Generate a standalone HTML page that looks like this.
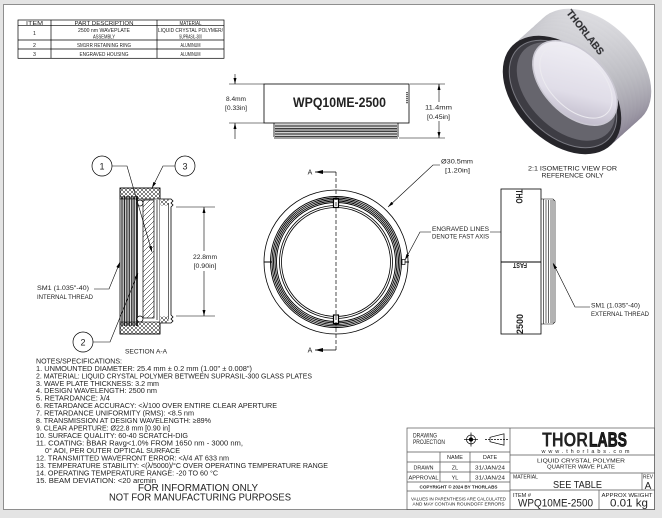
<!DOCTYPE html>
<html>
<head>
<meta charset="utf-8">
<style>
  html,body{margin:0;padding:0;background:#e4e4e4;}
  svg{display:block;}
  text{font-family:"Liberation Sans","DejaVu Sans",sans-serif;fill:#222;}
</style>
</head>
<body>
<svg width="662" height="518" viewBox="0 0 662 518" xmlns="http://www.w3.org/2000/svg">
<defs>
  <marker id="a" viewBox="0 0 8 4" refX="8" refY="2" markerWidth="7" markerHeight="3" markerUnits="userSpaceOnUse" orient="auto-start-reverse"><path d="M0,0 L8,2 L0,4z" fill="#000"/></marker>
  <marker id="b" viewBox="0 0 8 4" refX="8" refY="2" markerWidth="9" markerHeight="4" markerUnits="userSpaceOnUse" orient="auto-start-reverse"><path d="M0,0 L8,2 L0,4z" fill="#000"/></marker>
  <pattern id="hx" width="4" height="4" patternUnits="userSpaceOnUse">
    <path d="M0,4 L4,0 M0,0 L4,4" stroke="#000" stroke-width="0.5"/>
  </pattern>
  <pattern id="hg" width="5" height="5" patternUnits="userSpaceOnUse">
    <path d="M-1,6 L6,-1" stroke="#000" stroke-width="0.5"/>
  </pattern>
  <pattern id="vt" width="1.7" height="4" patternUnits="userSpaceOnUse">
    <rect x="0" y="0" width="0.9" height="4" fill="#111"/>
  </pattern>
  <pattern id="ht" width="4" height="1.6" patternUnits="userSpaceOnUse">
    <rect x="0" y="0" width="4" height="0.8" fill="#111"/>
  </pattern>
  <linearGradient id="band" gradientUnits="userSpaceOnUse" x1="560" y1="5" x2="625" y2="150">
    <stop offset="0" stop-color="#efeff2"/>
    <stop offset="0.35" stop-color="#bcbcc2"/>
    <stop offset="0.65" stop-color="#8c8696"/>
    <stop offset="1" stop-color="#4c4854"/>
  </linearGradient>
  <linearGradient id="lens" x1="0" y1="0" x2="1" y2="1">
    <stop offset="0" stop-color="#f4f3f8"/>
    <stop offset="0.6" stop-color="#e0dde8"/>
    <stop offset="1" stop-color="#b0aabc"/>
  </linearGradient>
</defs>

<!-- page frame -->
<rect x="0" y="0" width="662" height="518" fill="#e4e4e4"/>
<rect x="3.5" y="4.5" width="651" height="505" fill="#fff" stroke="#8e8e8e" stroke-width="1"/>

<!-- ===== BOM TABLE ===== -->
<g stroke="#000" stroke-width="0.7" fill="none">
  <rect x="18" y="20" width="206" height="38.3"/>
  <line x1="18" y1="25.7" x2="224" y2="25.7"/>
  <line x1="18" y1="40" x2="224" y2="40"/>
  <line x1="18" y1="49" x2="224" y2="49"/>
  <line x1="51" y1="20" x2="51" y2="58.3"/>
  <line x1="157" y1="20" x2="157" y2="58.3"/>
</g>
<g font-size="5.3" text-anchor="middle">
  <text x="34.5" y="24.8" textLength="17" lengthAdjust="spacingAndGlyphs">ITEM</text>
  <text x="104" y="24.8" textLength="59" lengthAdjust="spacingAndGlyphs">PART DESCRIPTION</text>
  <text x="190.5" y="24.8" textLength="22" lengthAdjust="spacingAndGlyphs">MATERIAL</text>
  <text x="34.5" y="35">1</text>
  <text x="104" y="32" textLength="52" lengthAdjust="spacingAndGlyphs">2500 nm WAVEPLATE</text>
  <text x="104" y="38.3" textLength="22" lengthAdjust="spacingAndGlyphs">ASSEMBLY</text>
  <text x="190.5" y="32" textLength="65" lengthAdjust="spacingAndGlyphs">LIQUID CRYSTAL POLYMER/</text>
  <text x="190.5" y="38.3" textLength="23" lengthAdjust="spacingAndGlyphs">SUPRASIL-300</text>
  <text x="34.5" y="46.9">2</text>
  <text x="104" y="46.9" textLength="54" lengthAdjust="spacingAndGlyphs">SM1RR RETAINING RING</text>
  <text x="190.5" y="46.9" textLength="20" lengthAdjust="spacingAndGlyphs">ALUMINUM</text>
  <text x="34.5" y="56">3</text>
  <text x="104" y="56" textLength="49" lengthAdjust="spacingAndGlyphs">ENGRAVED HOUSING</text>
  <text x="190.5" y="56" textLength="20" lengthAdjust="spacingAndGlyphs">ALUMINUM</text>
</g>

<!-- ===== TOP VIEW ===== -->
<g stroke="#000" stroke-width="0.8" fill="none">
  <rect x="264" y="84" width="145" height="39" fill="#fff"/>
  <path d="M274,123 L274,137 M398,123 L398,137" />
</g>
<rect x="275" y="124" width="122" height="13.5" fill="url(#ht)"/>
<path d="M274,138 L398,138" stroke="#000" stroke-width="0.8"/>
<path d="M407,92 L407,104" stroke="#000" stroke-width="1.2" stroke-dasharray="1.2,0.8"/>
<text x="339.5" y="107" font-size="13.5" font-weight="bold" text-anchor="middle" fill="#000" textLength="93" lengthAdjust="spacingAndGlyphs">WPQ10ME-2500</text>
<g stroke="#000" stroke-width="0.6" fill="none">
  <line x1="229" y1="84" x2="264" y2="84"/>
  <line x1="229" y1="123" x2="264" y2="123"/>
  <line x1="235" y1="74" x2="235" y2="84" marker-end="url(#a)"/>
  <line x1="235" y1="139" x2="235" y2="123" marker-end="url(#a)"/>
</g>
<text x="236" y="101" font-size="6" text-anchor="middle" fill="#3a3f55" textLength="20" lengthAdjust="spacingAndGlyphs">8.4mm</text>
<text x="236" y="110" font-size="6" text-anchor="middle" fill="#3a3f55" textLength="22" lengthAdjust="spacingAndGlyphs">[0.33in]</text>
<g stroke="#000" stroke-width="0.6" fill="none">
  <line x1="410" y1="84" x2="445" y2="84"/>
  <line x1="399" y1="138" x2="445" y2="138"/>
  <line x1="439" y1="102" x2="439" y2="84" marker-end="url(#a)"/>
  <line x1="439" y1="121" x2="439" y2="138" marker-end="url(#a)"/>
</g>
<text x="438.5" y="109.5" font-size="6" text-anchor="middle" fill="#3a3f55" textLength="27" lengthAdjust="spacingAndGlyphs">11.4mm</text>
<text x="438.5" y="119" font-size="6" text-anchor="middle" fill="#3a3f55" textLength="23" lengthAdjust="spacingAndGlyphs">[0.45in]</text>

<!-- ===== ISOMETRIC ===== -->
<g>
  <ellipse cx="592" cy="68" rx="70" ry="46" transform="rotate(45 592 68)" fill="url(#band)"/>
  <ellipse cx="588.3" cy="71.4" rx="70" ry="46" transform="rotate(45 588.3 71.4)" fill="url(#band)"/>
  <ellipse cx="584.5" cy="74.8" rx="70" ry="46" transform="rotate(45 584.5 74.8)" fill="url(#band)"/>
  <ellipse cx="580.8" cy="78.1" rx="70" ry="46" transform="rotate(45 580.8 78.1)" fill="url(#band)"/>
  <ellipse cx="577" cy="81.5" rx="70" ry="46" transform="rotate(45 577 81.5)" fill="url(#band)"/>
  <ellipse cx="573.3" cy="84.9" rx="70" ry="46" transform="rotate(45 573.3 84.9)" fill="url(#band)"/>
  <ellipse cx="569.5" cy="88.3" rx="70" ry="46" transform="rotate(45 569.5 88.3)" fill="url(#band)"/>
  <ellipse cx="565.8" cy="91.6" rx="70" ry="46" transform="rotate(45 565.8 91.6)" fill="url(#band)"/>
  <ellipse cx="562" cy="95" rx="70" ry="46" transform="rotate(45 562 95)" fill="#26252a"/>
  <ellipse cx="563" cy="94" rx="64" ry="41" transform="rotate(45 563 94)" fill="#3e3d44" stroke="#7a7a82" stroke-width="1"/>
  <ellipse cx="566" cy="91.5" rx="59" ry="37" transform="rotate(45 566 91.5)" fill="#66656d"/>
  <ellipse cx="575" cy="83" rx="51" ry="31" transform="rotate(45 575 83)" fill="url(#lens)" stroke="#c9c7d1" stroke-width="1.5"/>
  <ellipse cx="576" cy="82" rx="44" ry="26" transform="rotate(45 576 82)" fill="none" stroke="#ecebf0" stroke-width="1"/>
  <text x="0" y="0" font-size="10" font-weight="bold" fill="#f4f4f6" stroke="#6e6e76" stroke-width="0.45" transform="translate(566,13) rotate(52)" textLength="54" lengthAdjust="spacingAndGlyphs">THORLABS</text>
</g>
<text x="572.5" y="170.5" font-size="6.3" text-anchor="middle" textLength="89" lengthAdjust="spacingAndGlyphs">2:1 ISOMETRIC VIEW FOR</text>
<text x="572.5" y="177.5" font-size="6.3" text-anchor="middle" textLength="62" lengthAdjust="spacingAndGlyphs">REFERENCE ONLY</text>

<!-- ===== SECTION A-A ===== -->
<g>
  <rect x="120" y="188" width="40" height="146" fill="#fff" stroke="#000" stroke-width="0.8"/>
  <rect x="120" y="188" width="40" height="11" fill="url(#hx)" stroke="#000" stroke-width="0.6"/>
  <rect x="120" y="322" width="40" height="12" fill="url(#hx)" stroke="#000" stroke-width="0.6"/>
  <rect x="121" y="196" width="16" height="130" fill="url(#vt)"/>
  <line x1="137.5" y1="196" x2="137.5" y2="326" stroke="#000" stroke-width="0.8"/>
  <rect x="143" y="200" width="11" height="118" fill="url(#hg)" stroke="#000" stroke-width="0.7"/>
  <line x1="157" y1="200" x2="157" y2="320" stroke="#000" stroke-width="0.7"/>
  <circle cx="140" cy="203" r="3" fill="#fff" stroke="#000" stroke-width="0.7"/>
  <circle cx="140" cy="319" r="3" fill="#fff" stroke="#000" stroke-width="0.7"/>
  <path d="M160,199 L171,199 L173,201 L171,203 L173,205 L171,207 L171,315 L173,317 L171,319 L173,321 L171,323 L160,323" fill="#fff" stroke="#000" stroke-width="0.8"/>
  <line x1="168.5" y1="203" x2="168.5" y2="319" stroke="#000" stroke-width="0.6"/>
  <rect x="160.5" y="199.5" width="8" height="6" fill="url(#hx)"/>
  <rect x="160.5" y="316.5" width="8" height="6" fill="url(#hx)"/>
</g>
<g stroke="#000" stroke-width="0.7" fill="#fff">
  <circle cx="102" cy="166" r="10"/>
  <circle cx="185" cy="166" r="10"/>
  <circle cx="83" cy="342" r="10"/>
</g>
<g font-size="9" text-anchor="middle">
  <text x="102" y="169.5">1</text>
  <text x="185" y="169.5">3</text>
  <text x="83" y="345.5">2</text>
</g>
<g stroke="#000" stroke-width="0.6" fill="none">
  <polyline points="112,166 127,166 152,252" marker-end="url(#a)"/>
  <polyline points="175,166 163,166 152,188" marker-end="url(#a)"/>
  <polyline points="93,342 110,342 138,273" marker-end="url(#a)"/>
  <polyline points="94,289 109,289 120,262" marker-end="url(#a)"/>
</g>
<text x="37" y="289.8" font-size="6" textLength="52" lengthAdjust="spacingAndGlyphs">SM1 (1.035"-40)</text>
<text x="37" y="298.8" font-size="6" textLength="56" lengthAdjust="spacingAndGlyphs">INTERNAL THREAD</text>
<g stroke="#000" stroke-width="0.6" fill="none">
  <line x1="176" y1="207" x2="215" y2="207"/>
  <line x1="176" y1="316" x2="215" y2="316"/>
  <line x1="204" y1="251" x2="204" y2="207" marker-end="url(#a)"/>
  <line x1="204" y1="271" x2="204" y2="316" marker-end="url(#a)"/>
</g>
<text x="205" y="259" font-size="6" text-anchor="middle" fill="#3a3f55" textLength="24" lengthAdjust="spacingAndGlyphs">22.8mm</text>
<text x="205" y="268" font-size="6" text-anchor="middle" fill="#3a3f55" textLength="23" lengthAdjust="spacingAndGlyphs">[0.90in]</text>
<text x="146" y="353.5" font-size="6.3" text-anchor="middle" textLength="42" lengthAdjust="spacingAndGlyphs">SECTION A-A</text>

<!-- ===== FRONT VIEW ===== -->
<g fill="none" stroke="#000">
  <circle cx="336" cy="262" r="72" stroke-width="0.8"/>
  <circle cx="336" cy="262" r="65.5" stroke-width="0.9"/>
  <circle cx="336" cy="262" r="64" stroke-width="0.9"/>
  <circle cx="336" cy="262" r="62.5" stroke-width="0.9"/>
  <circle cx="336" cy="262" r="61" stroke-width="0.9"/>
  <circle cx="336" cy="262" r="59.5" stroke-width="0.9"/>
  <circle cx="336" cy="262" r="56.5" stroke-width="0.8"/>
  <circle cx="336" cy="262" r="54.5" stroke-width="0.8"/>
</g>
<rect x="333.5" y="199" width="5" height="8.5" fill="#fff" stroke="#000" stroke-width="1.2"/>
<rect x="333.5" y="315" width="5" height="8.5" fill="#fff" stroke="#000" stroke-width="1.2"/>
<line x1="264" y1="262" x2="272" y2="262" stroke="#000" stroke-width="1"/>
<line x1="402" y1="262" x2="409" y2="262" stroke="#000" stroke-width="1"/>
<rect x="402" y="259.5" width="3" height="5" fill="#fff" stroke="#000" stroke-width="0.7"/>
<line x1="336" y1="172" x2="336" y2="350" stroke="#000" stroke-width="0.7" stroke-dasharray="4,2"/>
<g stroke="#000" stroke-width="0.8">
  <line x1="336" y1="172" x2="315" y2="172" marker-end="url(#b)"/>
  <line x1="336" y1="350" x2="315" y2="350" marker-end="url(#b)"/>
</g>
<text x="310" y="174.5" font-size="7" text-anchor="middle">A</text>
<text x="310" y="352.5" font-size="7" text-anchor="middle">A</text>
<polyline points="440,165 433,165 388,207" fill="none" stroke="#000" stroke-width="0.6" marker-end="url(#a)"/>
<text x="441" y="163.5" font-size="6.3" textLength="32" lengthAdjust="spacingAndGlyphs">Ø30.5mm</text>
<text x="445" y="172.5" font-size="6" textLength="25" lengthAdjust="spacingAndGlyphs">[1.20in]</text>
<g stroke="#000" stroke-width="0.6" fill="none">
  <polyline points="431,232 420,232 405,260" marker-end="url(#a)"/>
  <polyline points="490,232 503,232 518,260" marker-end="url(#a)"/>
</g>
<text x="460.5" y="231" font-size="6" text-anchor="middle" textLength="57" lengthAdjust="spacingAndGlyphs">ENGRAVED LINES</text>
<text x="460.5" y="238.5" font-size="6" text-anchor="middle" textLength="57" lengthAdjust="spacingAndGlyphs">DENOTE FAST AXIS</text>

<!-- ===== SIDE VIEW ===== -->
<rect x="501" y="189" width="40" height="145" fill="#fff" stroke="#000" stroke-width="0.8"/>
<line x1="501" y1="262" x2="541" y2="262" stroke="#000" stroke-width="1.1"/>
<g stroke="#000" stroke-width="0.6" fill="none">
  <path d="M541,199 L553,199 L555,201 L555,322 L553,324 L541,324"/>
  <line x1="543.5" y1="199" x2="543.5" y2="324"/>
  <line x1="546" y1="200" x2="546" y2="323"/>
  <line x1="548.5" y1="200" x2="548.5" y2="323"/>
  <line x1="551" y1="200" x2="551" y2="323"/>
  <line x1="553" y1="200" x2="553" y2="323"/>
</g>
<text font-size="9" font-weight="bold" fill="#000" transform="translate(516,189.5) rotate(90)" textLength="14" lengthAdjust="spacingAndGlyphs">THO</text>
<text font-size="7" font-weight="bold" fill="#000" text-anchor="middle" transform="translate(520,263) rotate(180)" textLength="14" lengthAdjust="spacingAndGlyphs">FAST</text>
<text font-size="9" font-weight="bold" fill="#000" transform="translate(523,334) rotate(-90)" textLength="20" lengthAdjust="spacingAndGlyphs">2500</text>
<polyline points="590,307 575,307 553,263" fill="none" stroke="#000" stroke-width="0.6" marker-end="url(#a)"/>
<text x="591" y="307.5" font-size="6" textLength="49" lengthAdjust="spacingAndGlyphs">SM1 (1.035"-40)</text>
<text x="591" y="316" font-size="6" textLength="58" lengthAdjust="spacingAndGlyphs">EXTERNAL THREAD</text>

<!-- ===== NOTES ===== -->
<g font-size="7.2">
  <text x="36" y="363.4" textLength="86" lengthAdjust="spacingAndGlyphs">NOTES/SPECIFICATIONS:</text>
  <text x="36" y="370.9" textLength="216" lengthAdjust="spacingAndGlyphs">1. UNMOUNTED DIAMETER: 25.4 mm ± 0.2 mm (1.00" ± 0.008")</text>
  <text x="36" y="378.3" textLength="276" lengthAdjust="spacingAndGlyphs">2. MATERIAL: LIQUID CRYSTAL POLYMER BETWEEN SUPRASIL-300 GLASS PLATES</text>
  <text x="36" y="385.8" textLength="123" lengthAdjust="spacingAndGlyphs">3. WAVE PLATE THICKNESS: 3.2 mm</text>
  <text x="36" y="393.2" textLength="121" lengthAdjust="spacingAndGlyphs">4. DESIGN WAVELENGTH: 2500 nm</text>
  <text x="36" y="400.7" textLength="74" lengthAdjust="spacingAndGlyphs">5. RETARDANCE: λ/4</text>
  <text x="36" y="408.2" textLength="241" lengthAdjust="spacingAndGlyphs">6. RETARDANCE ACCURACY: &lt;λ/100 OVER ENTIRE CLEAR APERTURE</text>
  <text x="36" y="415.6" textLength="158" lengthAdjust="spacingAndGlyphs">7. RETARDANCE UNIFORMITY (RMS): &lt;8.5 nm</text>
  <text x="36" y="423.1" textLength="175" lengthAdjust="spacingAndGlyphs">8. TRANSMISSION AT DESIGN WAVELENGTH: ≥89%</text>
  <text x="36" y="430.5" textLength="134" lengthAdjust="spacingAndGlyphs">9. CLEAR APERTURE: Ø22.8 mm [0.90 in]</text>
  <text x="36" y="438" textLength="152" lengthAdjust="spacingAndGlyphs">10. SURFACE QUALITY: 60-40 SCRATCH-DIG</text>
  <text x="36" y="445.5" textLength="207" lengthAdjust="spacingAndGlyphs">11. COATING: BBAR Ravg&lt;1.0% FROM 1650 nm - 3000 nm,</text>
  <text x="45" y="452.9" textLength="135" lengthAdjust="spacingAndGlyphs">0° AOI, PER OUTER OPTICAL SURFACE</text>
  <text x="36" y="460.4" textLength="193" lengthAdjust="spacingAndGlyphs">12. TRANSMITTED WAVEFRONT ERROR: &lt;λ/4 AT 633 nm</text>
  <text x="36" y="467.8" textLength="292" lengthAdjust="spacingAndGlyphs">13. TEMPERATURE STABILITY: &lt;(λ/5000)/°C OVER OPERATING TEMPERATURE RANGE</text>
  <text x="36" y="475.3" textLength="182" lengthAdjust="spacingAndGlyphs">14. OPERATING TEMPERATURE RANGE: -20 TO 60 °C</text>
  <text x="36" y="482.8" textLength="120" lengthAdjust="spacingAndGlyphs">15. BEAM DEVIATION: &lt;20 arcmin</text>
</g>
<text x="198" y="491" font-size="10" text-anchor="middle" textLength="120" lengthAdjust="spacingAndGlyphs">FOR INFORMATION ONLY</text>
<text x="200" y="500.5" font-size="10" text-anchor="middle" textLength="182" lengthAdjust="spacingAndGlyphs">NOT FOR MANUFACTURING PURPOSES</text>

<!-- ===== TITLE BLOCK ===== -->
<g stroke="#555" stroke-width="0.7" fill="none">
  <rect x="407" y="428" width="247.5" height="81.5" fill="#fff"/>
  <line x1="510" y1="428" x2="510" y2="509.5"/>
  <line x1="407" y1="452" x2="510" y2="452"/>
  <line x1="407" y1="462" x2="510" y2="462"/>
  <line x1="407" y1="472" x2="510" y2="472"/>
  <line x1="407" y1="482" x2="510" y2="482"/>
  <line x1="407" y1="491" x2="510" y2="491"/>
  <line x1="440" y1="452" x2="440" y2="482"/>
  <line x1="470" y1="452" x2="470" y2="482"/>
  <line x1="510" y1="455" x2="654.5" y2="455"/>
  <line x1="510" y1="473" x2="654.5" y2="473"/>
  <line x1="510" y1="490" x2="654.5" y2="490"/>
  <line x1="642" y1="473" x2="642" y2="490"/>
  <line x1="599" y1="490" x2="599" y2="509.5"/>
</g>
<text x="413" y="437.5" font-size="6" textLength="24" lengthAdjust="spacingAndGlyphs">DRAWING</text>
<text x="413" y="443.8" font-size="6" textLength="32" lengthAdjust="spacingAndGlyphs">PROJECTION</text>
<g stroke="#000" stroke-width="0.7" fill="none">
  <circle cx="471" cy="439.5" r="4.5"/>
  <circle cx="471" cy="439.5" r="1.8" fill="#000"/>
  <line x1="464" y1="439.5" x2="478" y2="439.5"/>
  <line x1="471" y1="432.5" x2="471" y2="446.5"/>
  <polygon points="490,437.3 504,433.8 504,445.2 490,441.7"/>
  <line x1="485" y1="439.5" x2="508" y2="439.5" stroke-dasharray="2,1"/>
</g>
<g font-size="5.5" text-anchor="middle">
  <text x="455" y="458.8">NAME</text>
  <text x="490" y="458.8">DATE</text>
  <text x="423.5" y="469.3" font-size="5" textLength="20" lengthAdjust="spacingAndGlyphs">DRAWN</text>
  <text x="455" y="469.3">ZL</text>
  <text x="490" y="469.3" textLength="30" lengthAdjust="spacingAndGlyphs">31/JAN/24</text>
  <text x="423.5" y="479.6" font-size="5" textLength="30" lengthAdjust="spacingAndGlyphs">APPROVAL</text>
  <text x="455" y="479.6">YL</text>
  <text x="490" y="479.6" textLength="30" lengthAdjust="spacingAndGlyphs">31/JAN/24</text>
  <text x="458.5" y="488.5" font-size="4.4" font-weight="bold" textLength="78" lengthAdjust="spacingAndGlyphs">COPYRIGHT © 2024 BY THORLABS</text>
  <text x="458.5" y="500.5" font-size="4.2" textLength="95" lengthAdjust="spacingAndGlyphs">VALUES IN PARENTHESIS ARE CALCULATED</text>
  <text x="458.5" y="505.5" font-size="4.2" textLength="92" lengthAdjust="spacingAndGlyphs">AND MAY CONTAIN ROUNDOFF ERRORS</text>
</g>
<text x="542" y="446.5" font-size="20" font-weight="900" fill="#000" textLength="46" lengthAdjust="spacingAndGlyphs">THOR</text>
<text x="589" y="446.5" font-size="20" font-weight="bold" fill="#fff" stroke="#000" stroke-width="0.8" textLength="38" lengthAdjust="spacingAndGlyphs">LABS</text>
<text x="585.5" y="453.2" font-size="5.5" text-anchor="middle" textLength="88" lengthAdjust="spacing">www.thorlabs.com</text>
<text x="581" y="462.5" font-size="5.5" text-anchor="middle" textLength="88" lengthAdjust="spacingAndGlyphs">LIQUID CRYSTAL POLYMER</text>
<text x="581" y="468.7" font-size="5.5" text-anchor="middle" textLength="68" lengthAdjust="spacingAndGlyphs">QUARTER WAVE PLATE</text>
<text x="513" y="478.5" font-size="5.5" textLength="25" lengthAdjust="spacingAndGlyphs">MATERIAL</text>
<text x="577.5" y="488" font-size="10" text-anchor="middle" textLength="49" lengthAdjust="spacingAndGlyphs">SEE TABLE</text>
<text x="648" y="478.5" font-size="5.5" text-anchor="middle" textLength="10" lengthAdjust="spacingAndGlyphs">REV</text>
<text x="648" y="489" font-size="10" text-anchor="middle">A</text>
<text x="513" y="497" font-size="5.5" textLength="18" lengthAdjust="spacingAndGlyphs">ITEM #</text>
<text x="555.5" y="506.5" font-size="11" text-anchor="middle" textLength="75" lengthAdjust="spacingAndGlyphs">WPQ10ME-2500</text>
<text x="627" y="497" font-size="5.5" text-anchor="middle" textLength="51" lengthAdjust="spacingAndGlyphs">APPROX WEIGHT</text>
<text x="629" y="506.5" font-size="11" text-anchor="middle" textLength="38" lengthAdjust="spacingAndGlyphs">0.01 kg</text>
</svg>
</body>
</html>
